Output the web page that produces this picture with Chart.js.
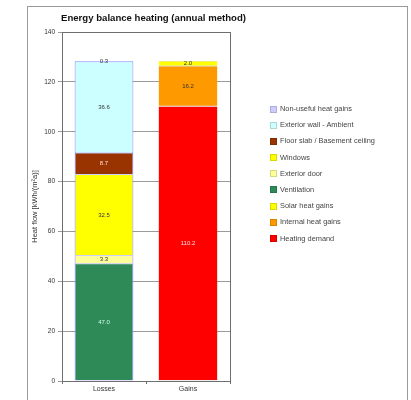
<!DOCTYPE html>
<html>
<head>
<meta charset="utf-8">
<script src="https://cdn.jsdelivr.net/npm/chart.js@4/dist/chart.umd.min.js"></script>
<style>
  html, body { margin: 0; padding: 0; background: #fff; }
  #wrap { position: relative; width: 411px; height: 400px; overflow: hidden; font-family: "Liberation Sans", Arial, sans-serif; }
  #frame { position: absolute; left: 27px; top: 6px; width: 381px; height: 400px; border: 1px solid #9a9a9a; box-sizing: border-box; }
  #title { position: absolute; left: 61px; top: 12px; font-size: 9.6px; font-weight: bold; color: #111; white-space: nowrap; }
  #chart { position: absolute; left: 0; top: 0; }
  #legend { position: absolute; left: 268px; top: 101px; width: 142px; font-size: 7.4px; color: #444; }
  #legend div { height: 16.2px; line-height: 16.2px; white-space: nowrap; }
  #legend span.m { display: inline-block; width: 5px; height: 5px; margin: 0 3px 0 2px; vertical-align: middle; }
</style>
</head>
<body>
<div id="wrap">
  <div id="frame"></div>
  <canvas id="chart" width="411" height="400"></canvas>
  <div id="title">Energy balance heating (annual method)</div>
  <div id="legend"></div>
</div>
<script>
// Categories and values, kWh/(m²a)
const categories = ["Losses", "Gains"];
const seriesNames = [
  "Heating demand",
  "Internal heat gains",
  "Solar heat gains",
  "Ventilation",
  "Exterior door",
  "Windows",
  "Floor slab / Basement ceiling",
  "Exterior wall - Ambient",
  "Non-useful heat gains"
];
const heatingDemand   = [null, 110.2];
const internalGains   = [null, 16.2];
const solarGains      = [null, 2.0];
const ventilation     = [47.0, null];
const exteriorDoor    = [3.3, null];
const windows         = [32.5, null];
const floorSlab       = [8.7, null];
const exteriorWall    = [36.6, null];
const nonUsefulGains  = [0.3, null];
const yTicks = [0, 20, 40, 60, 80, 100, 120, 140];

const seriesValues = [heatingDemand, internalGains, solarGains, ventilation, exteriorDoor,
                      windows, floorSlab, exteriorWall, nonUsefulGains];
const fills = ["#ff0000", "#ff9900", "#ffff00", "#2e8b57", "#ffff99",
               "#ffff00", "#993300", "#ccffff", "#ccccff"];
const labelColors = ["#ffe0e0", "#333", "#333", "#cfe", "#333", "#333", "#fdd", "#333", "#333"];
const isLoss = [false, false, false, true, true, true, true, true, true];

const datasets = seriesNames.map((name, i) => ({
  label: name,
  data: seriesValues[i],
  backgroundColor: fills[i],
  borderColor: isLoss[i] ? "#8c8cff" : "rgba(0,0,0,0.25)",
  borderWidth: isLoss[i] ? { left: 1, right: 1, top: 0.5, bottom: 0.5 } : { top: 0.5, bottom: 0.5 },
  borderSkipped: false,
  labelColor: labelColors[i]
}));

// Value labels in the middle of each stacked segment
const segmentLabels = {
  id: "segmentLabels",
  afterDatasetsDraw(chart) {
    const ctx = chart.ctx;
    ctx.save();
    ctx.font = "6px 'Liberation Sans', Arial, sans-serif";
    ctx.textAlign = "center";
    ctx.textBaseline = "middle";
    chart.data.datasets.forEach((ds, di) => {
      chart.getDatasetMeta(di).data.forEach((bar, j) => {
        const v = ds.data[j];
        if (v === null || v === undefined) return;
        ctx.fillStyle = ds.labelColor;
        ctx.fillText(v.toFixed(1), bar.x, (bar.y + bar.base) / 2);
      });
    });
    ctx.restore();
  }
};

// Plot area outline
const plotFrame = {
  id: "plotFrame",
  afterDraw(chart) {
    const a = chart.chartArea, ctx = chart.ctx;
    ctx.save();
    ctx.strokeStyle = "#6e6e6e";
    ctx.lineWidth = 1;
    ctx.strokeRect(Math.round(a.left) + 0.5, Math.round(a.top) + 0.5,
                   Math.round(a.right - a.left), Math.round(a.bottom - a.top));
    ctx.restore();
  }
};

const chart = new Chart(document.getElementById("chart"), {
  type: "bar",
  data: { labels: categories, datasets },
  options: {
    responsive: false,
    animation: false,
    layout: { padding: { left: 30, top: 32, right: 181, bottom: 0 } },
    datasets: { bar: { categoryPercentage: 1, barPercentage: 0.7 } },
    plugins: { legend: { display: false }, tooltip: { enabled: false }, title: { display: false } },
    scales: {
      x: {
        stacked: true,
        afterFit(s) { s.height = 19; },
        grid: { offset: true, drawOnChartArea: false, tickLength: 3, color: "#6e6e6e" },
        border: { display: false },
        ticks: { color: "#333", font: { size: 7, family: "'Liberation Sans', Arial, sans-serif" }, padding: 1 }
      },
      y: {
        stacked: true,
        min: 0, max: 140,
        afterFit(s) { s.width = 32; },
        afterBuildTicks(s) { s.ticks = yTicks.map(v => ({ value: v })); },
        grid: { color: "#9a9a9a", tickLength: 4, lineWidth: 1 },
        border: { display: false },
        ticks: { color: "#333", font: { size: 6.5, family: "'Liberation Sans', Arial, sans-serif" }, padding: 3 },
        title: { display: true, text: "Heat flow [kWh/(m²a)]", color: "#333",
                 font: { size: 7.5, family: "'Liberation Sans', Arial, sans-serif" }, padding: { top: 0, bottom: 2 } }
      }
    }
  },
  plugins: [segmentLabels, plotFrame]
});

// Legend listed top to bottom in reverse stacking order
const legend = document.getElementById("legend");
const legendOrder = [8, 7, 6, 5, 4, 3, 2, 1, 0];
legendOrder.forEach(i => {
  const row = document.createElement("div");
  const m = document.createElement("span");
  m.className = "m";
  m.style.background = fills[i];
  m.style.border = "1px solid rgba(0,0,0,0.15)";
  row.appendChild(m);
  row.appendChild(document.createTextNode(seriesNames[i]));
  legend.appendChild(row);
});
</script>
</body>
</html>
